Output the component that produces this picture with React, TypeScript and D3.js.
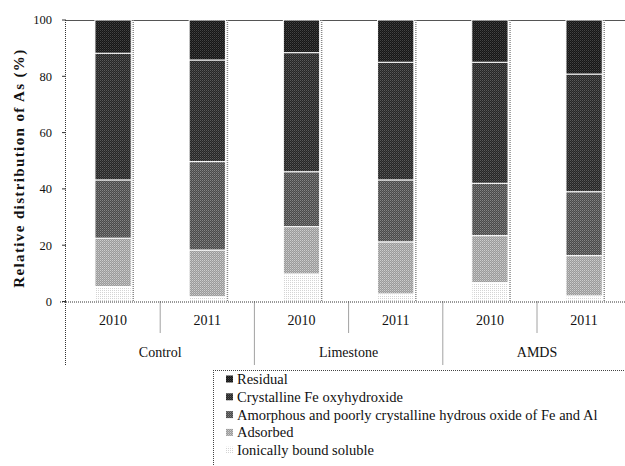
import React from 'react';
import * as d3 from 'd3';

const groups = ['Control', 'Limestone', 'AMDS'];
const years = ['2010', '2011'];
const seriesKeys = ['ionic', 'adsorbed', 'amorphous', 'crystalline', 'residual'];
const seriesNames = [
  'Ionically bound soluble',
  'Adsorbed',
  'Amorphous and poorly crystalline hydrous oxide of Fe and Al',
  'Crystalline Fe oxyhydroxide',
  'Residual',
];
// bars: Control 2010, Control 2011, Limestone 2010, Limestone 2011, AMDS 2010, AMDS 2011
const ionic = [5.3, 1.7, 9.8, 2.7, 6.7, 2.0];
const adsorbed = [17.2, 16.6, 16.8, 18.5, 16.7, 14.3];
const amorphous = [20.7, 31.4, 19.5, 22.0, 18.6, 22.7];
const crystalline = [45.0, 36.1, 42.3, 41.8, 43.0, 41.8];
const residual = [11.8, 14.2, 11.6, 15.0, 15.0, 19.2];
const yTicks = [0, 20, 40, 60, 80, 100];

const patternColors: Record<string, [string, string]> = {
  residual: ['#161616', '#444444'],
  crystalline: ['#262626', '#5a5a5a'],
  amorphous: ['#4a4a4a', '#858585'],
  adsorbed: ['#9a9a9a', '#cdcdcd'],
  ionic: ['#ffffff', '#d4d4d4'],
};

const FONT = '"Liberation Serif", "DejaVu Serif", serif';

export default function App() {
  const W = 625, H = 466;
  const bars = d3.range(6).map((i) => ({
    i,
    ionic: ionic[i],
    adsorbed: adsorbed[i],
    amorphous: amorphous[i],
    crystalline: crystalline[i],
    residual: residual[i],
  }));
  const stack = d3.stack<any>().keys(seriesKeys);
  const layers = stack(bars);

  const x0 = 66;
  const x = d3.scaleBand<number>().domain(d3.range(6)).range([x0, 631.2]).paddingInner(0.615).paddingOuter(0.3075);
  const step = x.step();
  const y = d3.scaleLinear().domain([0, 100]).range([301.5, 20]);
  const yBase = y(0);
  const yearRowBottom = 333;
  const groupRowBottom = 365;

  const legendItems = seriesKeys.map((k, i) => ({ k, name: seriesNames[i] })).reverse();

  return (
    <svg width={W} height={H} style={{ position: 'absolute', left: 0, top: 0, background: '#fff' }} fontFamily={FONT}>
      <defs>
        {seriesKeys.map((k) => (
          <pattern key={k} id={`pat-${k}`} width={2} height={2} patternUnits="userSpaceOnUse">
            <rect width={2} height={2} fill={patternColors[k][0]} />
            <rect x={0} y={0} width={1} height={1} fill={patternColors[k][1]} />
            {k !== 'ionic' && <rect x={1} y={1} width={1} height={1} fill={patternColors[k][1]} opacity={0.5} />}
          </pattern>
        ))}
      </defs>

      {/* top border */}
      <line x1={x0} x2={W} y1={y(100) + 0.5} y2={y(100) + 0.5} stroke="#555" strokeWidth={1} />

      {/* bars */}
      {layers.map((layer) => (
        <g key={layer.key}>
          {layer.map((d, i) => (
            <rect
              key={i}
              x={x(i)}
              width={x.bandwidth()}
              y={y(d[1])}
              height={Math.max(0, y(d[0]) - y(d[1]))}
              fill={`url(#pat-${layer.key})`}
              stroke="#fff"
              strokeWidth={1}
            />
          ))}
        </g>
      ))}

      {/* dotted right edges */}
      {d3.range(6).map((i) => (
        <line
          key={i}
          x1={(x(i) as number) + x.bandwidth() + 2}
          x2={(x(i) as number) + x.bandwidth() + 2}
          y1={y(100)}
          y2={yBase}
          stroke="#888"
          strokeWidth={1.5}
          strokeDasharray="1 1"
        />
      ))}

      {/* y axis */}
      <line x1={x0 - 0.5} x2={x0 - 0.5} y1={y(100)} y2={groupRowBottom} stroke="#333" strokeDasharray="1 1" />
      {yTicks.map((t) => (
        <g key={t}>
          <line x1={x0 - 4} x2={x0} y1={y(t)} y2={y(t)} stroke="#333" />
          <text x={x0 - 14} y={y(t)} dy="0.35em" textAnchor="end" fontSize={12.5} fill="#111">
            {t}
          </text>
        </g>
      ))}
      <text
        transform={`translate(24,${(y(0) + y(100)) / 2 + 8}) rotate(-90)`}
        textAnchor="middle"
        fontSize={15}
        fontWeight="bold"
        fill="#111"
        textLength={238}
        lengthAdjust="spacing"
      >
        Relative distribution of As (%)
      </text>

      {/* x axis */}
      <line x1={x0 - 6} x2={W} y1={yBase + 0.5} y2={yBase + 0.5} stroke="#333" strokeDasharray="1 1" />
      {d3.range(1, 7).map((i) => {
        const bx = x0 + i * step;
        const isGroup = i % 2 === 0;
        return (
          <line
            key={i}
            x1={bx}
            x2={bx}
            y1={yBase}
            y2={isGroup ? groupRowBottom : yearRowBottom}
            stroke="#444"
            strokeDasharray="1 1"
          />
        );
      })}
      {d3.range(6).map((i) => (
        <text key={i} x={x0 + (i + 0.5) * step} y={320} dy="0.35em" textAnchor="middle" fontSize={14} fill="#111">
          {years[i % 2]}
        </text>
      ))}
      {groups.map((g, gi) => (
        <text key={g} x={x0 + (gi * 2 + 1) * step} y={352} dy="0.35em" textAnchor="middle" fontSize={14} fill="#111">
          {g}
        </text>
      ))}

      {/* legend */}
      <g>
        <line x1={213} x2={W} y1={370.5} y2={370.5} stroke="#444" strokeDasharray="1 1" />
        <line x1={213.5} x2={213.5} y1={370} y2={H} stroke="#444" strokeDasharray="1 1" />
        {legendItems.map((it, i) => {
          const cy = 379 + i * 17.8;
          return (
            <g key={it.k}>
              <rect x={226} y={cy - 3.5} width={7} height={7} fill={`url(#pat-${it.k})`} />
              <text x={237} y={cy} dy="0.35em" fontSize={14.5} fill="#111">
                {it.name}
              </text>
            </g>
          );
        })}
      </g>
    </svg>
  );
}
